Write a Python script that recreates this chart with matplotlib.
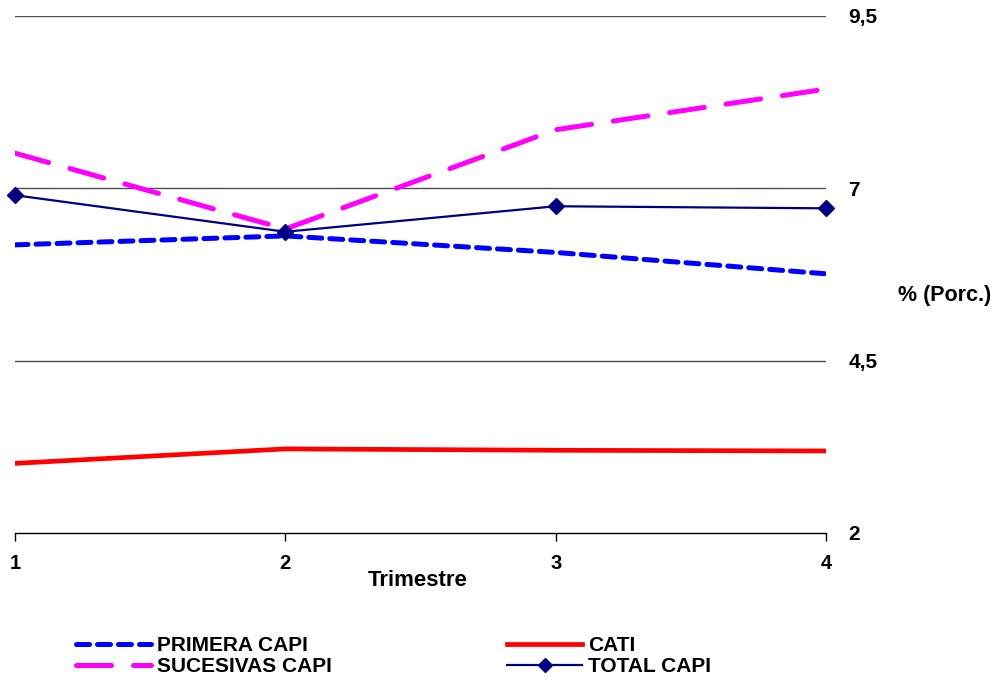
import matplotlib
matplotlib.use("Agg")
import matplotlib.pyplot as plt

plt.rcParams['font.family'] = ['Liberation Sans', 'DejaVu Sans']

# data
trimestres = [1, 2, 3, 4]
primera_capi = [6.18, 6.31, 6.07, 5.76]
sucesivas_capi = [7.51, 6.41, 7.85, 8.44]
cati = [3.01, 3.22, 3.20, 3.19]
total_capi = [6.90, 6.37, 6.74, 6.71]

y_ticks = [2, 4.5, 7, 9.5]
y_tick_labels = ['2', '4,5', '7', '9,5']

fig = plt.figure(figsize=(10.08, 6.8), dpi=100)
ax = fig.add_axes([15 / 1008, 1 - 533 / 680, (826 - 15) / 1008, (533 - 16) / 680])

# gridlines
for yv in y_ticks[1:]:
    ax.axhline(yv, color='#505050', linewidth=1.0, zorder=1)

l1, = ax.plot(trimestres, primera_capi, color='#0000FF', linewidth=3.6,
              dashes=(2.6, 1.6), dash_capstyle='round', label='PRIMERA CAPI', zorder=3)
l2, = ax.plot(trimestres, sucesivas_capi, color='#FF00FF', linewidth=3.6,
              dashes=(7.0, 4.4), dash_capstyle='round', label='SUCESIVAS CAPI', zorder=3)
l3, = ax.plot(trimestres, cati, color='#FF0000', linewidth=3.4,
              label='CATI', zorder=3)
l4, = ax.plot(trimestres, total_capi, color='#000080', linewidth=1.6,
              marker='D', markersize=8, label='TOTAL CAPI', zorder=4, clip_on=False)

ax.set_xlim(1, 4)
ax.set_ylim(2, 9.5)
ax.set_xticks(trimestres)
ax.set_xticklabels([str(t) for t in trimestres], fontsize=14.5, fontweight='bold')
ax.set_yticks(y_ticks)
ax.set_yticklabels(y_tick_labels, fontsize=15, fontweight='bold')
ax.yaxis.tick_right()
ax.tick_params(axis='y', length=0, pad=16)
ax.tick_params(axis='x', direction='out', length=6, width=1, color='black', pad=9)

for side in ['top', 'left', 'right']:
    ax.spines[side].set_visible(False)
ax.spines['bottom'].set_color('black')
ax.spines['bottom'].set_linewidth(1.0)

fig.text(418 / 1008, 1 - 580 / 680, 'Trimestre', fontsize=16, fontweight='bold',
         ha='center', va='center')
fig.text(898 / 1008, 1 - 295 / 680, '% (Porc.)', fontsize=15.5, fontweight='bold',
         ha='left', va='center')

leg_props = {'weight': 'bold', 'size': 15}
leg1 = fig.legend(handles=[l1, l2], frameon=False, loc='center left',
                  bbox_to_anchor=(76 / 1008, 1 - 656 / 680), prop=leg_props,
                  handlelength=3.6, handletextpad=0.3, labelspacing=0.1,
                  borderpad=0, borderaxespad=0)
leg2 = fig.legend(handles=[l3, l4], frameon=False, loc='center left',
                  bbox_to_anchor=(507 / 1008, 1 - 656 / 680), prop=leg_props,
                  handlelength=3.6, handletextpad=0.3, labelspacing=0.1,
                  borderpad=0, borderaxespad=0, markerscale=0.85)

fig.savefig('out.png', dpi=100)
